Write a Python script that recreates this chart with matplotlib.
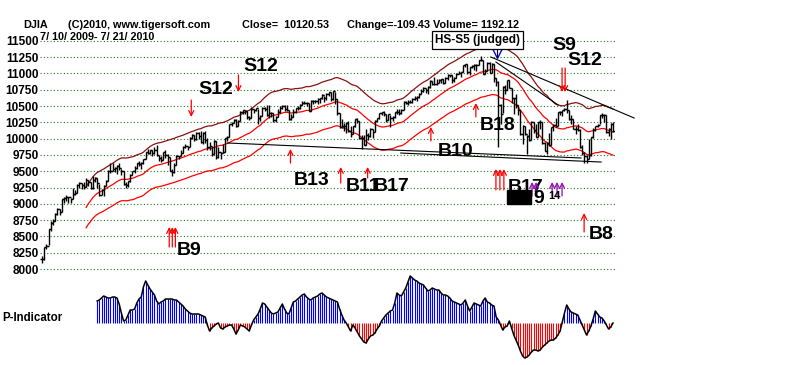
import matplotlib
matplotlib.use("Agg")
import matplotlib.pyplot as plt
import numpy as np
import pandas as pd

plt.rcParams['font.family'] = ['Liberation Sans', 'DejaVu Sans']
plt.rcParams['font.weight'] = 'bold'

# DJIA daily data, 7/10/2009 - 7/21/2010
closes = [
    8147, 8332, 8359, 8616, 8712, 8744, 8848, 8916, 8881, 9069, 9093, 9109, 9097, 9071, 9154, 9172,
    9287, 9320, 9281, 9256, 9370, 9338, 9241, 9362, 9398, 9321, 9135, 9218, 9279, 9350, 9506, 9509, 9539, 9544, 9581, 9544, 9496,
    9311, 9281, 9345, 9441, 9497, 9547, 9627, 9605, 9627, 9683, 9792, 9784, 9820, 9779, 9830, 9749, 9707, 9665, 9789, 9742, 9712,
    9509, 9488, 9600, 9731, 9726, 9787, 9865, 9886, 9871, 10016, 10063, 9996, 10092, 10041, 9949, 10081, 9972, 9868, 9882, 9763, 9963, 9713,
    9789, 9772, 9802, 10006, 10023, 10227, 10247, 10291, 10197, 10270, 10407, 10437, 10426, 10332, 10318, 10451, 10434, 10464, 10310, 10345,
    10472, 10453, 10366, 10389, 10390, 10286, 10337, 10406, 10472, 10501, 10452, 10441, 10308, 10329, 10414, 10465, 10466, 10520, 10547, 10545, 10549, 10428,
    10584, 10572, 10574, 10607, 10618, 10664, 10627, 10681, 10711, 10610, 10725, 10603, 10390, 10173, 10197, 10194, 10236, 10120, 10067,
    10186, 10297, 10271, 10002, 10012, 9908, 10059, 10038, 10144, 10099, 10269, 10309, 10393, 10402, 10383, 10282, 10374, 10321, 10325,
    10404, 10406, 10397, 10444, 10566, 10553, 10564, 10567, 10612, 10625, 10642, 10686, 10734, 10779, 10742, 10786, 10889, 10836, 10841, 10850, 10896, 10907, 10857,
    10927, 10974, 10970, 10898, 10927, 10997, 11006, 11019, 11123, 11145, 11019, 11092, 11117, 11125, 11134, 11204, 11205, 10992, 11045, 11167, 11009,
    11152, 10927, 10868, 10520, 10380, 10785, 10748, 10897, 10783, 10620, 10626, 10511, 10444, 10068, 10193, 10067, 10044, 9974, 10259, 10137,
    10024, 10250, 10255, 9932, 9816, 9940, 9899, 10173, 10211, 10191, 10405, 10409, 10434, 10451, 10442, 10294, 10298, 10153, 10144, 10139, 9870, 9774,
    9733, 9686, 9744, 10018, 10139, 10198, 10216, 10363, 10367, 10359, 10098, 10154, 10230, 10121,
]
highs = [
    8200, 8335, 8390, 8620, 8730, 8760, 8860, 8930, 8920, 9080, 9100, 9130, 9110, 9090, 9250, 9210,
    9300, 9330, 9320, 9330, 9400, 9370, 9330, 9420, 9410, 9390, 9310, 9230, 9290, 9360, 9520, 9620, 9630, 9560, 9590, 9630, 9540,
    9510, 9340, 9350, 9450, 9510, 9580, 9630, 9660, 9640, 9690, 9800, 9840, 9830, 9820, 9870, 9900, 9750, 9740, 9800, 9830, 9760,
    9720, 9530, 9620, 9750, 9740, 9830, 9880, 9910, 9890, 10020, 10070, 10060, 10100, 10100, 10120, 10100, 10120, 10010, 9950, 9890, 9980, 9960,
    9870, 9800, 9910, 10010, 10040, 10230, 10260, 10300, 10300, 10290, 10420, 10440, 10440, 10420, 10350, 10480, 10450, 10470, 10460, 10360,
    10480, 10490, 10520, 10520, 10410, 10390, 10350, 10450, 10500, 10520, 10510, 10510, 10440, 10380, 10450, 10470, 10500, 10530, 10580, 10580, 10560, 10550,
    10600, 10600, 10600, 10620, 10630, 10680, 10660, 10700, 10720, 10710, 10730, 10720, 10610, 10400, 10300, 10240, 10250, 10270, 10200,
    10190, 10300, 10320, 10270, 10050, 10060, 10140, 10090, 10160, 10140, 10280, 10320, 10400, 10410, 10420, 10380, 10380, 10370, 10340,
    10410, 10460, 10450, 10450, 10580, 10580, 10590, 10600, 10620, 10650, 10650, 10700, 10760, 10790, 10780, 10800, 10900, 10890, 10940, 10910, 10910, 10920, 10920,
    10950, 10990, 10980, 10980, 10940, 11000, 11030, 11020, 11130, 11150, 11140, 11100, 11130, 11150, 11140, 11210, 11260, 11210, 11070, 11180, 11180,
    11160, 11150, 10930, 10880, 10530, 10810, 10820, 10900, 10900, 10780, 10630, 10680, 10510, 10440, 10210, 10200, 10060, 10140, 10270, 10260,
    10230, 10260, 10280, 10250, 9950, 9950, 10090, 10180, 10220, 10310, 10410, 10420, 10440, 10470, 10600, 10440, 10360, 10300, 10200, 10220, 10140, 9900,
    9790, 9750, 10000, 10020, 10160, 10200, 10230, 10370, 10390, 10380, 10360, 10160, 10240, 10250,
]
lows = [
    8090, 8140, 8300, 8365, 8590, 8680, 8740, 8830, 8830, 8870, 9010, 9050, 9020, 9020, 9080, 9140,
    9170, 9250, 9230, 9230, 9260, 9280, 9230, 9230, 9340, 9240, 9120, 9140, 9120, 9270, 9350, 9480, 9500, 9490, 9460, 9520, 9440,
    9290, 9250, 9260, 9340, 9440, 9480, 9540, 9580, 9540, 9610, 9680, 9760, 9770, 9740, 9770, 9730, 9650, 9640, 9670, 9700, 9600,
    9500, 9430, 9480, 9600, 9680, 9730, 9780, 9860, 9820, 9870, 10000, 9960, 9980, 10000, 9930, 9920, 9940, 9830, 9820, 9740, 9760, 9690,
    9710, 9680, 9780, 9800, 9960, 10030, 10200, 10240, 10180, 10190, 10270, 10380, 10380, 10300, 10280, 10320, 10390, 10430, 10230, 10270,
    10340, 10430, 10350, 10310, 10330, 10250, 10260, 10330, 10400, 10460, 10420, 10430, 10280, 10290, 10330, 10400, 10440, 10460, 10510, 10530, 10500, 10420,
    10430, 10530, 10540, 10530, 10550, 10610, 10560, 10600, 10660, 10570, 10600, 10530, 10370, 10160, 10160, 10120, 10080, 10100, 10030,
    10070, 10180, 10240, 10000, 9840, 9900, 9900, 9980, 10020, 10010, 10100, 10270, 10300, 10360, 10350, 10260, 10280, 10180, 10270,
    10320, 10380, 10370, 10380, 10440, 10530, 10520, 10550, 10540, 10600, 10570, 10630, 10680, 10720, 10700, 10690, 10780, 10820, 10830, 10820, 10850, 10850, 10840,
    10860, 10900, 10940, 10860, 10870, 10930, 10990, 10950, 11020, 11100, 10990, 10980, 11090, 11050, 11040, 11130, 11190, 10990, 10990, 11040, 11000,
    11000, 10870, 10800, 9870, 10220, 10390, 10680, 10750, 10770, 10540, 10380, 10470, 10360, 10060, 9920, 10050, 9760, 9960, 9980, 10080,
    10020, 10020, 10150, 9910, 9810, 9770, 9880, 9900, 10120, 10180, 10190, 10360, 10350, 10420, 10400, 10290, 10230, 10140, 10070, 10110, 9860, 9750,
    9620, 9620, 9690, 9740, 10010, 10110, 10180, 10220, 10320, 10250, 10090, 10040, 9990, 10100,
]

# P-Indicator, starts on bar 25
p_start = 25
p_ind = [
    22, 23, 25, 27, 26, 25, 25, 26, 26, 25,
    19, 10, 2, 3, 8, 13, 13, 14, 20, 24,
    26, 36, 42, 38, 34, 31, 28, 22, 19, 21,
    22, 24, 24, 24, 24, 23, 23, 21, 19, 17,
    14, 12, 10, 9, 9, 9, 9, 8, 7, 6,
    -2, -8, -5, -3, -1, 0, -5, -6, -4, -3,
    -2, -2, -6, -11, -7, -2, -3, -4, -6, -8,
    -2, 3, 6, 9, 14, 20, 19, 16, 13, 10,
    9, 10, 11, 15, 19, 14, 10, 9, 15, 21,
    22, 24, 26, 28, 29, 26, 24, 23, 25, 26,
    27, 29, 30, 28, 26, 25, 24, 23, 22, 21,
    14, 8, 3, 0, -4, -8, -2, -5, -9, -13,
    -16, -19, -20, -16, -13, -12, -10, -6, -3, 2,
    5, 8, 10, 12, 13, 20, 30, 28, 27, 31,
    35, 41, 47, 45, 43, 42, 40, 39, 38, 35,
    32, 33, 35, 34, 33, 33, 30, 28, 28, 27,
    25, 22, 21, 20, 19, 18, 20, 23, 17, 12,
    16, 20, 19, 18, 17, 22, 25, 21, 20, 18,
    17, 6, 3, -2, -7, -4, -3, 2, -5, -12,
    -17, -22, -28, -33, -35, -34, -32, -29, -27, -27,
    -28, -27, -24, -22, -20, -18, -17, -17, -15, -12,
    -8, 1, 10, 18, 14, 11, 10, 9, 8, 3,
    -2, -7, -12, -8, -3, 4, 12, 9, 6, 5,
    2, -2, -6, -4, 0,
]

price_ticks = list(range(8000, 11501, 250))

# signals: (label, text day, text price, arrow days, arrow tip, arrow tail, colour)
signals = [
    ("S12", 78.6, 10746, [67.7], 10332, 10592, "red"),
    ("S12", 99.1, 11099, [89.1], 10715, 10976, "red"),
    ("S9", 236.8, 11421, [235.9, 237.3], 10715, 11083, "red"),
    ("S12", 246.4, 11191, [], 0, 0, "red"),
    ("B18", 206.8, 10194, [196.8], 10546, 10332, "red"),
    ("B10", 187.7, 9795, [176.4], 10178, 9964, "red"),
    ("B13", 122.3, 9350, [112.7], 9841, 9626, "red"),
    ("B11", 145.5, 9273, [135.5], 9565, 9319, "red"),
    ("B17", 158.6, 9273, [147.7], 9565, 9396, "red"),
    ("B9", 66.8, 8291, [57.7, 59.1, 60.5], 8644, 8337, "red"),
    ("B17", 219.5, 9243, [205.9, 207.7, 209.5], 9534, 9212, "red"),
    ("B8", 253.6, 8522, [245.9], 8859, 8568, "red"),
    ("", 0, 0, [222.3, 224.1, 231.4, 233.6, 235.9], 9335, 9120, "#9010b0"),
]

# trend lines: (day0, price0, day1, price1)
trend_lines = [
    (84.1, 9933, 244.5, 9703),
    (162.7, 9779, 253.6, 9641),
    (203.6, 11252, 268.6, 10316),
    (205.9, 11175, 234.1, 10516),
]

W, H = 800, 365
fig = plt.figure(figsize=(8, 3.65), dpi=100)
fig.patch.set_facecolor("white")

# price panel
ax = fig.add_axes([40 / W, 1 - 300 / H, 575 / W, 300 / H])
ax.set_facecolor("none")
for s in ax.spines.values():
    s.set_visible(False)
ax.set_xlim(-0.91, 259.91)
ax.set_ylim(7524.5, 12126.5)
ax.set_xticks([])
ax.set_yticks(price_ticks)
ax.set_yticklabels([str(t) for t in price_ticks], fontsize=8.5, fontweight="bold")
ax.tick_params(axis="y", length=0, pad=1)
ax.grid(axis="y", color="#1f7a1f", linestyle=(0, (1, 2)), linewidth=0.8)
ax.set_axisbelow(True)

days = np.arange(len(closes))
c = np.array(closes, dtype=float)
opens = np.concatenate([[c[0]], c[:-1]])

ma = pd.Series(c).rolling(21).mean()
ax.plot(days, ma * 1.035, color="#8b1010", lw=0.9)
ax.plot(days, ma, color="red", lw=0.9)
ax.plot(days, ma * 0.965, color="red", lw=0.9)

ax.vlines(days, lows, highs, colors="black", lw=1.0)
ax.hlines(c, days, days + 0.8, colors="black", lw=1.0)
ax.hlines(opens, days - 0.8, days, colors="black", lw=1.0)

for d0, p0, d1, p1 in trend_lines:
    ax.plot([d0, d1], [p0, p1], color="black", lw=0.8, clip_on=False)

for label, tx, ty, adays, tip, tail, col in signals:
    for ad in adays:
        ax.annotate("", xy=(ad, tip), xytext=(ad, tail),
                    arrowprops=dict(arrowstyle="->", color=col, lw=0.9,
                                    mutation_scale=9, shrinkA=0, shrinkB=0))
    if label:
        ax.text(tx, ty, label, fontsize=14, fontweight="bold",
                ha="center", va="center", clip_on=False)

# overlapping signal clutter near May 2010
ax.text(216.4, 9105, "B18", fontsize=9, fontweight="bold", color="black",
        ha="center", va="center",
        bbox=dict(boxstyle="square,pad=0.05", fc="black", ec="black"))
ax.text(225.5, 9089, "9", fontsize=14, fontweight="bold", ha="center", va="center")
ax.text(232.3, 9120, "14", fontsize=8, fontweight="bold", ha="center", va="center")

# head & shoulders box and peak marker
ax.text(197.7, 11513, "HS-S5 (judged)", fontsize=8.5, fontweight="bold",
        ha="center", va="center", clip_on=False,
        bbox=dict(boxstyle="square,pad=0.25", fc="white", ec="black", lw=0.9))
ax.plot([206.4], [11329], marker="v", ms=8, mfc="none", mec="blue", mew=1)
ax.plot([206.4, 206.4], [11420, 11250], color="black", lw=0.8)

# P-Indicator panel
ax2 = fig.add_axes([40 / W, 0, 575 / W, 95 / H])
ax2.set_facecolor("none")
ax2.axis("off")
ax2.set_xlim(-0.91, 259.91)
ax2.set_ylim(-42, 53)
pd_days = np.arange(p_start, p_start + len(p_ind))
pv = np.array(p_ind, dtype=float)
cols = np.where(pv >= 0, "#0000ff", "#ff0000")
ax2.vlines(pd_days, 0, pv, colors=cols, lw=0.8)
ax2.plot(pd_days, pv, color="black", lw=1.1)

fig.text(2 / W, 1 - 318 / H, "P-Indicator", fontsize=8.3, fontweight="bold", va="center")

# header
hy = 1 - 25 / H
fig.text(23 / W, hy, "DJIA", fontsize=7.8, fontweight="bold", va="center")
fig.text(68 / W, hy, "(C)2010, www.tigersoft.com", fontsize=7.8, fontweight="bold", va="center")
fig.text(242 / W, hy, "Close=  10120.53", fontsize=7.8, fontweight="bold", va="center")
fig.text(347 / W, hy, "Change=-109.43 Volume= 1192.12", fontsize=7.8, fontweight="bold", va="center")
fig.text(40 / W, 1 - 37 / H, "7/ 10/ 2009- 7/ 21/ 2010", fontsize=7.8, fontweight="bold", va="center")

fig.savefig("out.png", dpi=100, facecolor="white")
